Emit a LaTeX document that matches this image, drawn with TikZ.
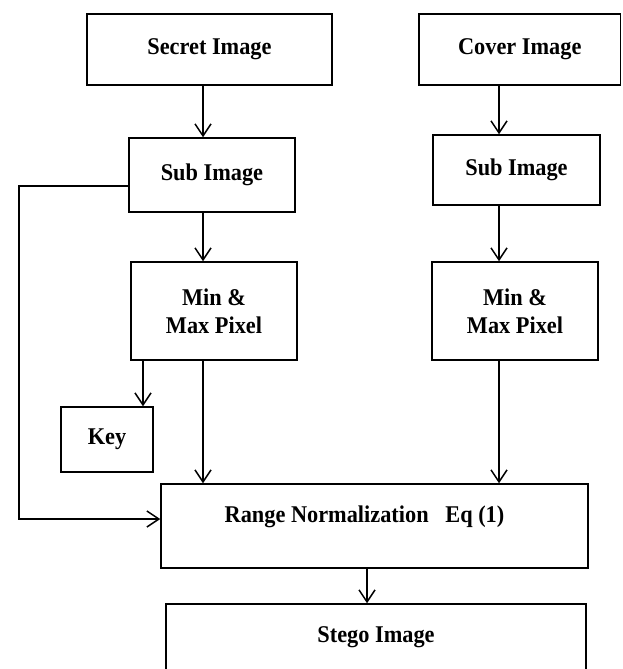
\documentclass[tikz,border=0pt]{standalone}
\usepackage{fontspec}
\setmainfont{Liberation Serif}[FakeStretch=0.93]
\usetikzlibrary{arrows.meta}
\tikzset{
  box/.style={draw, line width=1.5pt, inner sep=0pt, align=center,
    font=\bfseries\fontsize{24}{28}\selectfont},
  arr/.style={line width=1.5pt, -{Straight Barb[length=12pt,width=16pt,line width=1.5pt]}},
  link/.style={line width=1.5pt}
}
\begin{document}
\begin{tikzpicture}[x=1pt,y=-1pt]
\useasboundingbox (0,0) rectangle (622,669);
\clip (0,0) rectangle (622,669);
\fill[white] (0,0) rectangle (622,669);

\node[box, minimum width=245pt, minimum height=71pt] (secret) at (209.5,49.5) {Secret Image};
\node[box, minimum width=201.5pt, minimum height=71pt] (cover) at (519.75,49.5) {Cover Image};
\node[box, minimum width=166pt, minimum height=74pt] (subL) at (212,175) {Sub Image};
\node[box, minimum width=167pt, minimum height=70pt] (subR) at (516.5,170) {Sub Image};
\node[box, minimum width=166pt, minimum height=98pt] (minL) at (214,311) {Min \&\\Max Pixel};
\node[box, minimum width=166pt, minimum height=98pt] (minR) at (515,311) {Min \&\\Max Pixel};
\node[box, minimum width=92pt, minimum height=65pt] (key) at (107,439.5) {Key};
\node[box, minimum width=427pt, minimum height=84pt, text height=16pt, text depth=24pt] (range) at (374.5,526) {Range Normalization\ \ \ Eq (1)\hspace*{20pt}};
\node[box, minimum width=420pt, minimum height=66pt] (stego) at (376,637) {Stego Image};

\coordinate (cl) at (203,0);
\coordinate (cr) at (499,0);
\coordinate (ck) at (143,0);
\coordinate (cs) at (367,0);
\coordinate (l1) at (19,186);
\coordinate (l2) at (19,519);

\draw[arr] (secret.south -| cl) -- (subL.north -| cl);
\draw[arr] (subL.south -| cl) -- (minL.north -| cl);
\draw[arr] (minL.south -| cl) -- (range.north -| cl);
\draw[arr] (cover.south -| cr) -- (subR.north -| cr);
\draw[arr] (subR.south -| cr) -- (minR.north -| cr);
\draw[arr] (minR.south -| cr) -- (range.north -| cr);
\draw[arr] (minL.south -| ck) -- (key.north -| ck);
\draw[arr] (range.south -| cs) -- (stego.north -| cs);
\draw[arr] (subL.west |- l1) -- (l1) -- (l2) -- (range.west |- l2);
\end{tikzpicture}
\end{document}
